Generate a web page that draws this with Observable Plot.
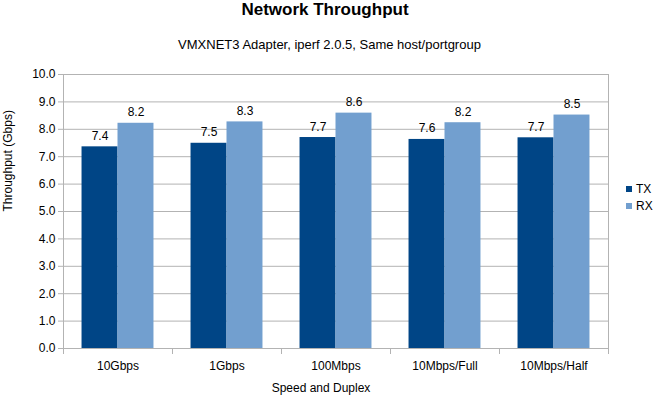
<!DOCTYPE html>
<html>
<head>
<meta charset="utf-8">
<script src="https://cdn.jsdelivr.net/npm/d3@7"></script>
<script src="https://cdn.jsdelivr.net/npm/@observablehq/plot@0.6"></script>
<style>
  body { margin: 0; background: #fff; }
  #wrap { position: relative; width: 659px; height: 397px; font-family: "Liberation Sans", Arial, sans-serif; color: #000; overflow: hidden; }
  #wrap svg { position: absolute; left: 0; top: 0; }
  .title { position: absolute; left: 0; width: 650px; text-align: center; top: 0px; font-size: 17px; font-weight: bold; }
  .subtitle { position: absolute; left: 0; width: 659px; text-align: center; top: 37px; font-size: 13px; }
  .legend { position: absolute; left: 626px; font-size: 12px; line-height: 12px; }
  .legend span.sw { display: inline-block; width: 6px; height: 6px; margin-right: 4px; vertical-align: 1px; }
</style>
</head>
<body>
<div id="wrap">
  <div class="title">Network Throughput</div>
  <div class="subtitle">VMXNET3 Adapter, iperf 2.0.5, Same host/portgroup</div>
</div>
<script>
const categories = ["10Gbps", "1Gbps", "100Mbps", "10Mbps/Full", "10Mbps/Half"];
const seriesNames = ["TX", "RX"];
const txValues = [7.36, 7.49, 7.70, 7.63, 7.69];
const rxValues = [8.22, 8.27, 8.59, 8.24, 8.52];
const yTicks = [0, 1, 2, 3, 4, 5, 6, 7, 8, 9, 10];
const colors = ["#004586", "#729fcf"];

const W = 659, H = 397;
const mL = 63, mR = 51, mT = 74, mB = 49;
const bw = (W - mL - mR) / categories.length;
const barW = bw * 0.33;
const gap = (bw - 2 * barW) / 2;

const data = categories.map((c, i) => ({cat: c, tx: txValues[i], rx: rxValues[i]}));
const grid = "#b3b3b3";
const fmt = d3.format(".1f");

const chart = Plot.plot({
  width: W, height: H,
  marginLeft: mL, marginRight: mR, marginTop: mT, marginBottom: mB,
  style: {fontFamily: "Liberation Sans, Arial, sans-serif", fontSize: "12px", color: "#000", background: "transparent"},
  x: {domain: categories, padding: 0},
  y: {domain: [0, 10]},
  marks: [
    Plot.gridY(yTicks, {stroke: grid, strokeOpacity: 1}),
    Plot.frame({stroke: grid}),
    Plot.axisY(yTicks, {tickSize: 5, tickPadding: 3, tickFormat: fmt, stroke: grid, fill: "#000", label: null, fontSize: 12}),
    Plot.axisX({tickSize: 0, tickPadding: 13, fill: "#000", label: null, fontSize: 12}),
    Plot.axisX({tickSize: 6, dx: -bw / 2, text: null, stroke: grid, label: null}),
    Plot.axisX([categories[categories.length - 1]], {tickSize: 6, dx: bw / 2, text: null, stroke: grid, label: null}),
    Plot.barY(data, {x: "cat", y: "tx", fill: colors[0], insetLeft: gap, insetRight: gap + barW}),
    Plot.barY(data, {x: "cat", y: "rx", fill: colors[1], insetLeft: gap + barW, insetRight: gap}),
    Plot.text(data, {x: "cat", y: "tx", text: d => fmt(d.tx), dx: -barW / 2, dy: -7, lineAnchor: "bottom", fill: "#000", fontSize: 12}),
    Plot.text(data, {x: "cat", y: "rx", text: d => fmt(d.rx), dx: barW / 2, dy: -7, lineAnchor: "bottom", fill: "#000", fontSize: 12}),
    Plot.text(["Throughput (Gbps)"], {frameAnchor: "left", dx: -55, rotate: -90, fill: "#000", fontSize: 12}),
    Plot.text(["Speed and Duplex"], {frameAnchor: "bottom", dx: -15, dy: 43, fill: "#000", fontSize: 12})
  ]
});
const wrap = document.getElementById("wrap");
wrap.insertBefore(chart, wrap.firstChild);

seriesNames.forEach((s, i) => {
  const d = document.createElement("div");
  d.className = "legend";
  d.style.top = (183 + i * 17) + "px";
  d.innerHTML = `<span class="sw" style="background:${colors[i]}"></span>${s}`;
  wrap.appendChild(d);
});
</script>
</body>
</html>
